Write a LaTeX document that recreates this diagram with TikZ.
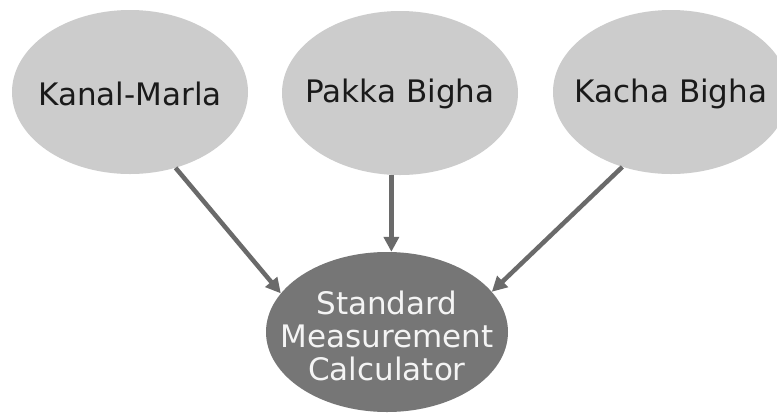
\documentclass[tikz,border=0pt]{standalone}
\usepackage{fontspec}
\setmainfont{DejaVu Sans}
\usetikzlibrary{shapes.geometric,arrows.meta}
\definecolor{unitfill}{HTML}{CCCCCC}
\definecolor{calcfill}{HTML}{767676}
\definecolor{linkgray}{HTML}{6A6A6A}
\definecolor{inkdark}{HTML}{1A1A1A}
\definecolor{inklight}{HTML}{F4F4F4}
\tikzset{
  unit/.style={ellipse, fill=unitfill, draw=none, inner sep=0pt,
    minimum width=236pt, minimum height=164pt},
  unittext/.style={text=inkdark, inner sep=0pt,
    font=\fontsize{31}{36}\selectfont},
  calc/.style={ellipse, fill=calcfill, draw=none, inner sep=0pt,
    minimum width=242pt, minimum height=160pt},
  calctext/.style={text=inklight, align=center, inner sep=0pt,
    font=\fontsize{31}{33}\selectfont},
  link/.style={draw=linkgray, line width=4.5pt,
    -{Triangle[length=15pt,width=15pt]}}
}
\begin{document}
\begin{tikzpicture}[x=1pt,y=-1pt]
  \useasboundingbox (0,0) rectangle (777,413);
  \clip (0,0) rectangle (777,413);
  \fill[white] (0,0) rectangle (777,413);
  % the three units of land measurement
  \node[unit] (km) at (130,92) {};
  \node[unit] (pb) at (400,93) {};
  \node[unit] (kb) at (671,92) {};
  \node[unittext] (kmtext) at (130,94) {Kanal-Marla};
  \node[unittext] (pbtext) at (400,94) {Pakka Bigha};
  \node[unittext] (kbtext) at (671,94) {Kacha Bigha};
  % the calculator they all feed into
  \node[calc] (smc) at (387,332) {};
  \node[calctext] (smctext) at (387,336) {Standard\\Measurement\\Calculator};
  \draw[link] (km.-59) -- (smc.160);
  \draw[link] (pb.-96) -- (pb.-96 |- smc.north);
  \draw[link] (kb.-123) -- (smc.21);
\end{tikzpicture}
\end{document}
